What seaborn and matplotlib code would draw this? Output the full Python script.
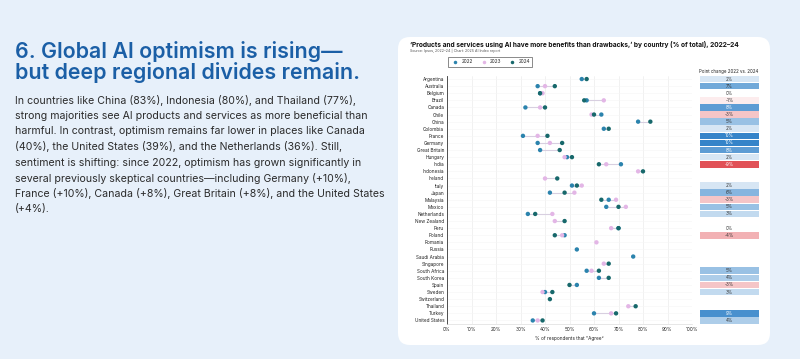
import numpy as np
import pandas as pd
import matplotlib
matplotlib.use('Agg')
import matplotlib.pyplot as plt
import seaborn as sns
from matplotlib.patches import FancyBboxPatch
from matplotlib.colors import LinearSegmentedColormap, TwoSlopeNorm

nan = np.nan

countries = ['Argentina', 'Australia', 'Belgium', 'Brazil', 'Canada', 'Chile', 'China',
             'Colombia', 'France', 'Germany', 'Great Britain', 'Hungary', 'India',
             'Indonesia', 'Ireland', 'Italy', 'Japan', 'Malaysia', 'Mexico', 'Netherlands',
             'New Zealand', 'Peru', 'Poland', 'Romania', 'Russia', 'Saudi Arabia',
             'Singapore', 'South Africa', 'South Korea', 'Spain', 'Sweden', 'Switzerland',
             'Thailand', 'Turkey', 'United States']
pct_2022 = [55, 37, 38, 57, 32, 63, 78, 64, 31, 37, 38, 49, 71, nan, nan, 51, 42, 66, 65, 33,
            nan, 70, 48, nan, 53, 76, nan, 57, 62, 53, 40, nan, nan, 60, 35]
pct_2023 = [nan, 40, 39, 64, 38, 59, nan, nan, 37, 42, nan, 48, 65, 78, 40, 55, 52, 69, 73, 43,
            44, 67, 47, 61, nan, nan, 64, 59, nan, nan, 39, nan, 74, 67, 37]
pct_2024 = [57, 44, 38, 56, 40, 60, 83, 66, 41, 47, 46, 51, 62, 80, 45, 53, 48, 63, 70, 36,
            48, 70, 44, nan, nan, nan, 66, 62, 66, 50, 43, 42, 77, 69, 39]
point_change = [2, 7, 0, -1, 8, -3, 5, 2, 10, 10, 8, 2, -9, nan, nan, 2, 6, -3, 5, 3,
                nan, 0, -4, nan, nan, nan, nan, 5, 4, -3, 3, nan, nan, 9, 4]
years = ['2022', '2023', '2024']
year_colors = ['#2b83ad', '#e3b6e6', '#17686b']
x_ticks = list(range(0, 101, 10))

title_text = "6. Global AI optimism is rising\u2014\nbut deep regional divides remain."
body_lines = [
    "In countries like China (83%), Indonesia (80%), and Thailand (77%),",
    "strong majorities see AI products and services as more beneficial than",
    "harmful. In contrast, optimism remains far lower in places like Canada",
    "(40%), the United States (39%), and the Netherlands (36%). Still,",
    "sentiment is shifting: since 2022, optimism has grown significantly in",
    "several previously skeptical countries\u2014including Germany (+10%),",
    "France (+10%), Canada (+8%), Great Britain (+8%), and the United States",
    "(+4%).",
]

BG = '#e7f0fa'
W, H = 800, 359

sns.set_style('white')
plt.rcParams['font.family'] = ['Inter', 'DejaVu Sans']

wide = pd.DataFrame({'country': countries, '2022': pct_2022, '2023': pct_2023, '2024': pct_2024})
wide['pos'] = np.arange(len(countries))
df = wide.melt(id_vars=['country', 'pos'], value_vars=years, var_name='year', value_name='pct').dropna()

fig = plt.figure(figsize=(W / 100, H / 100), dpi=100)
fig.patch.set_facecolor(BG)

# white rounded card behind the chart
card = FancyBboxPatch((3.98, (H - 345) / 100), 3.72, 3.08,
                      boxstyle='round,pad=0,rounding_size=0.12',
                      transform=fig.dpi_scale_trans, facecolor='white', edgecolor='none', zorder=0)
fig.add_artist(card)

# left text block
fig.text(15 / W, 1 - 41.5 / H, title_text, fontsize=15.4, weight='semibold',
         color='#1b5fa6', va='top', linespacing=0.97)
for k, line in enumerate(body_lines):
    fig.text(15 / W, 1 - (100.5 + k * 15.5) / H, line, fontsize=7.6, color='#2b2b2b', va='center')

# chart titles
fig.text(410 / W, 1 - 44 / H,
         "\u2018Products and services using AI have more benefits than drawbacks,\u2019 by country (% of total), 2022\u201324",
         fontsize=4.75, weight='bold', color='#111111', va='center')
fig.text(410 / W, 1 - 51 / H, 'Source: Ipsos, 2022\u201324 | Chart: 2025 AI Index report',
         fontsize=2.6, color='#555555', va='center')

ax_bottom = 1 - 324 / H
ax_height = 248.5 / H
ax = fig.add_axes([447 / W, ax_bottom, 245 / W, ax_height])
ax.patch.set_alpha(0)

# dumbbell connectors
lo = wide[years].min(axis=1)
hi = wide[years].max(axis=1)
ax.hlines(wide['pos'], lo, hi, color='#d8cfe0', linewidth=0.8, zorder=1)

sns.scatterplot(data=df, x='pct', y='pos', hue='year', hue_order=years,
                palette=dict(zip(years, year_colors)), s=10, linewidth=0, ax=ax, zorder=3)

ax.set_xlim(0, 100)
ax.set_ylim(len(countries) - 0.5, -0.5)
ax.set_xticks(x_ticks)
ax.set_xticklabels([f'{t}%' for t in x_ticks], fontsize=3.4, color='#222222')
ax.set_yticks(range(len(countries)))
ax.set_yticklabels(countries, fontsize=3.4, color='#222222')
ax.tick_params(axis='both', length=0, pad=2)
ax.set_xlabel('% of respondents that \u201cAgree\u201d', fontsize=3.4, color='#222222', labelpad=3)
ax.set_ylabel('')
ax.grid(axis='x', color='#ececec', linewidth=0.5)
ax.grid(axis='y', color='#f6f6f6', linewidth=0.4)
ax.set_axisbelow(True)
for side in ['top', 'right']:
    ax.spines[side].set_visible(False)
ax.spines['left'].set_color('#333333')
ax.spines['left'].set_linewidth(0.6)
ax.spines['bottom'].set_color('#dddddd')
ax.spines['bottom'].set_linewidth(0.5)

sns.move_legend(ax, 'lower left', bbox_to_anchor=(-0.005, 1.025), ncol=3, title=None,
                frameon=True, fontsize=3.4, markerscale=0.8, handletextpad=0.3,
                columnspacing=1.3, borderpad=0.55, fancybox=False)
leg = ax.get_legend()
leg.get_frame().set_edgecolor('#333333')
leg.get_frame().set_linewidth(0.5)

# point change table
tax = fig.add_axes([700 / W, ax_bottom, 59 / W, ax_height])
tax.set_ylim(len(countries) - 0.5, -0.5)
tax.set_xlim(0, 1)
cmap = LinearSegmentedColormap.from_list('chg', ['#de3f45', '#ffffff', '#3584c9'])
norm = TwoSlopeNorm(vcenter=0, vmin=-10, vmax=10)
for i, v in enumerate(point_change):
    if np.isnan(v):
        continue
    tax.barh(i, 1, left=0, height=0.94, color=cmap(norm(v)), linewidth=0)
    tax.text(0.5, i, f'{int(v)}%', ha='center', va='center', fontsize=3.2,
             color='white' if abs(v) >= 8 else '#333333')
tax.axis('off')
fig.text(729 / W, 1 - 72 / H, 'Point change 2022 vs. 2024', fontsize=3.2, ha='center',
         va='center', color='#222222')

fig.savefig('out.png', dpi=100, facecolor=BG)
